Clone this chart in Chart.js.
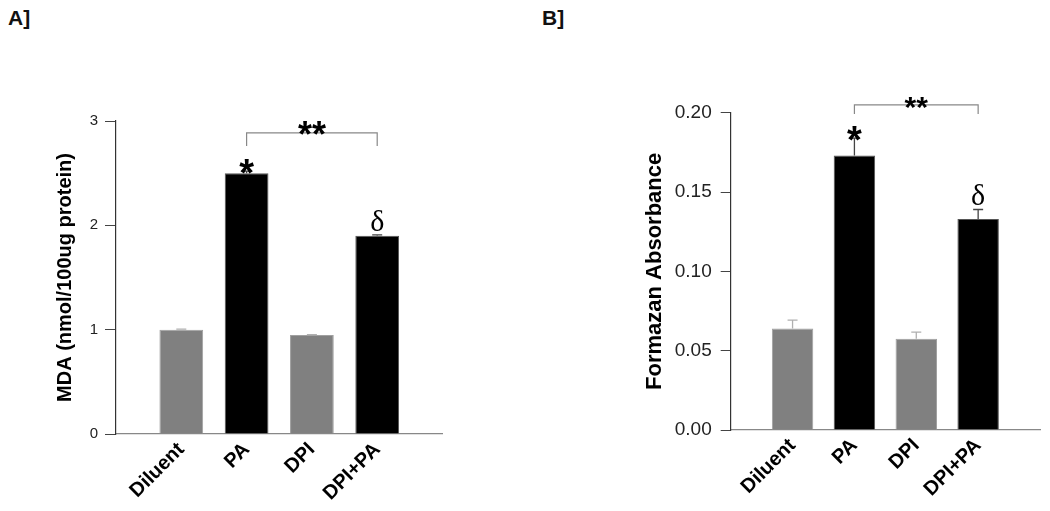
<!DOCTYPE html>
<html>
<head>
<meta charset="utf-8">
<script src="https://cdn.jsdelivr.net/npm/chart.js@4"></script>
<style>
  body { margin: 0; background: #fff; width: 1050px; height: 511px; position: relative; overflow: hidden; font-family: "Liberation Sans", Arial, sans-serif; }
  .panel-label { position: absolute; top: 7px; font-weight: bold; font-size: 21px; line-height: 21px; color: #111; }
  .box { position: absolute; top: 0; height: 511px; }
</style>
</head>
<body>
<div class="panel-label" style="left:8px">A]</div>
<div class="panel-label" style="left:542px">B]</div>
<div class="box" style="left:0; width:460px"><canvas id="chartA"></canvas></div>
<div class="box" style="left:525px; width:525px"><canvas id="chartB"></canvas></div>

<script>
// groups on the x axis
const categories = ['Diluent', 'PA', 'DPI', 'DPI+PA'];
const barColors = ['#808080', '#000000', '#808080', '#000000'];
const edgeColors = ['#a0a0a0', '#555555', '#a0a0a0', '#555555'];
const errColors = ['#b0b0b0', '#444444', '#b0b0b0', '#444444'];

// A] MDA
const mdaValues = [1.00, 2.50, 0.95, 1.90];
const mdaErrors = [0.005, 0.02, 0.003, 0.008];
const mdaTicks = [0, 1, 2, 3];

// B] Formazan
const formazanValues = [0.064, 0.173, 0.0575, 0.133];
const formazanErrors = [0.0052, 0.011, 0.0042, 0.006];
const formazanTicks = [0, 0.05, 0.10, 0.15, 0.20];

// significance marks: category index -> symbol
const starIndex = 1;      // '*' over PA
const deltaIndex = 3;     // 'δ' over DPI+PA
const bracketFrom = 1, bracketTo = 3;
const mdaBracket = [2.886, 2.76];          // top, end of legs
const formazanBracket = [0.2049, 0.1992];

// error bars + stars + bracket, placed with the chart's own scales
const markPlugin = {
  id: 'marks',
  afterDatasetsDraw(chart, args, opts) {
    const ctx = chart.ctx;
    const x = chart.scales.x, y = chart.scales.y;
    const px = i => x.getPixelForValue(i + 1);
    ctx.save();
    // error bars (upper only)
    opts.values.forEach((v, i) => {
      const cx = px(i);
      const y0 = y.getPixelForValue(v);
      const y1 = y.getPixelForValue(v + opts.errors[i]);
      ctx.strokeStyle = errColors[i];
      ctx.lineWidth = 1.3;
      ctx.beginPath();
      ctx.moveTo(cx, y0); ctx.lineTo(cx, y1);
      ctx.moveTo(cx - 5, y1); ctx.lineTo(cx + 5, y1);
      ctx.stroke();
    });
    // '*'
    ctx.fillStyle = '#000';
    ctx.textAlign = 'center';
    ctx.textBaseline = 'alphabetic';
    const sTop = y.getPixelForValue(opts.values[starIndex] + opts.errors[starIndex]);
    ctx.font = 'bold 38px "Liberation Sans"';
    ctx.fillText('*', px(starIndex), sTop + 15);
    // 'δ'
    const dTop = y.getPixelForValue(opts.values[deltaIndex] + opts.errors[deltaIndex]);
    ctx.font = '30px "Liberation Serif"';
    ctx.fillText('δ', px(deltaIndex), dTop - 4);
    // bracket
    const bTop = y.getPixelForValue(opts.bracket[0]);
    const bEnd = y.getPixelForValue(opts.bracket[1]);
    const xa = px(bracketFrom), xb = px(bracketTo);
    ctx.strokeStyle = '#888';
    ctx.lineWidth = 1.2;
    ctx.beginPath();
    ctx.moveTo(xa, bEnd); ctx.lineTo(xa, bTop); ctx.lineTo(xb, bTop); ctx.lineTo(xb, bEnd);
    ctx.stroke();
    ctx.font = 'bold ' + opts.dblSize + 'px "Liberation Sans"';
    ctx.fillText('**', (xa + xb) / 2, bTop + opts.dblSize * 0.4);
    ctx.restore();
  }
};

function makePanel(id, values, errors, ticks, title, o) {
  return new Chart(document.getElementById(id), {
    type: 'bar',
    data: {
      datasets: [{
        data: values.map((v, i) => ({ x: i + 1, y: v })),
        backgroundColor: barColors,
        borderColor: edgeColors,
        borderWidth: 1,
        barPercentage: 0.67,
        categoryPercentage: 1
      }]
    },
    options: {
      responsive: true,
      maintainAspectRatio: false,
      animation: false,
      layout: { padding: { left: 0, top: o.top, right: o.right, bottom: 0 } },
      plugins: {
        legend: { display: false },
        tooltip: { enabled: false },
        marks: { values, errors, bracket: o.bracket, dblSize: o.dblSize }
      },
      scales: {
        x: {
          type: 'linear', min: 0, max: 5, offset: false,
          grid: { display: false, drawTicks: false, offset: false },
          border: { display: true, color: '#888', width: 1.3 },
          afterBuildTicks: s => { s.ticks = categories.map((c, i) => ({ value: i + 1 })); },
          afterFit: s => { s.height = o.xHeight; },
          ticks: {
            autoSkip: false, minRotation: o.rot, maxRotation: o.rot, padding: 4,
            color: '#000', font: { family: 'Liberation Sans', size: o.xFont, weight: 'bold' },
            callback: v => categories[v - 1]
          }
        },
        y: {
          min: ticks[0], max: ticks[ticks.length - 1],
          afterBuildTicks: s => { s.ticks = ticks.map(v => ({ value: v })); },
          afterFit: s => { s.width = o.yWidth; },
          grid: { display: true, drawOnChartArea: false, drawTicks: true, tickLength: o.tickLen, color: '#444' },
          border: { display: true, color: '#333', width: 1.2 },
          ticks: {
            padding: o.tickPad, color: '#222',
            font: { family: 'Liberation Sans', size: o.yFont },
            callback: v => o.fmt(v)
          },
          title: {
            display: true, text: title, color: '#000',
            font: { family: 'Liberation Sans', size: o.titleFont, weight: 'bold' },
            padding: { top: o.titlePad, bottom: 0 }
          }
        }
      }
    },
    plugins: [markPlugin]
  });
}

makePanel('chartA', mdaValues, mdaErrors, mdaTicks, 'MDA (nmol/100ug protein)', {
  top: 121, right: 17.5, xHeight: 77, yWidth: 116, rot: 45, xFont: 20,
  tickLen: 11, tickPad: 7, yFont: 15, titleFont: 20, titlePad: 53,
  bracket: mdaBracket, dblSize: 36, fmt: v => String(v)
});

makePanel('chartB', formazanValues, formazanErrors, formazanTicks, 'Formazan Absorbance', {
  top: 112.7, right: 10, xHeight: 81, yWidth: 205.7, rot: 45, xFont: 20,
  tickLen: 10, tickPad: 9, yFont: 19, titleFont: 22, titlePad: 117,
  bracket: formazanBracket, dblSize: 30, fmt: v => v.toFixed(2)
});
</script>
</body>
</html>
